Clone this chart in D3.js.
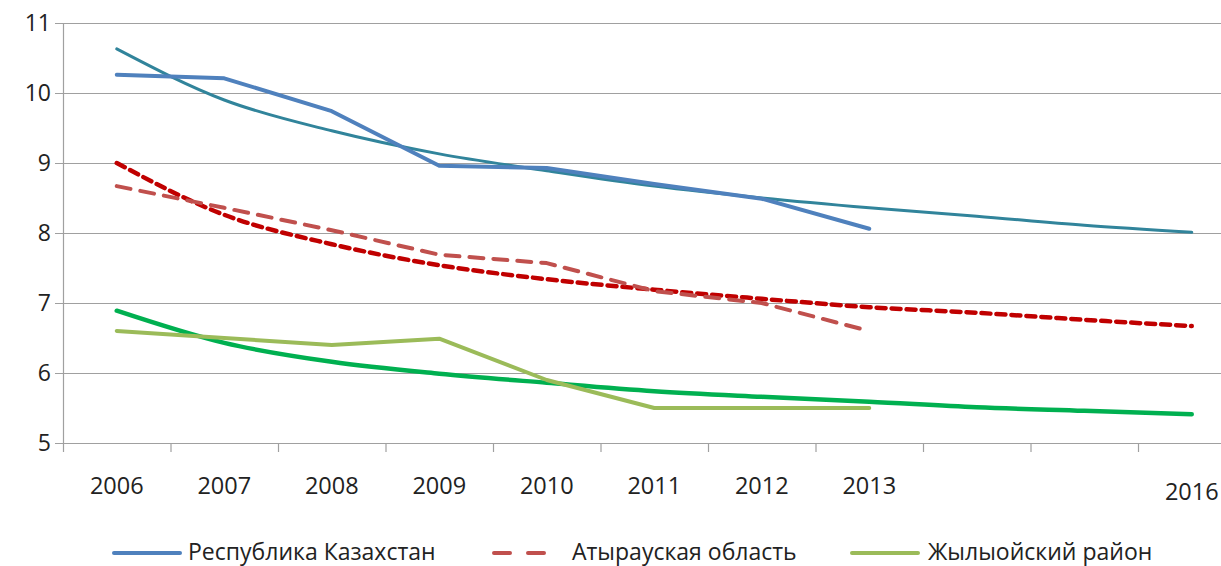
<!DOCTYPE html>
<html>
<head>
<meta charset="utf-8">
<script src="https://cdn.jsdelivr.net/npm/d3@7"></script>
<style>
  body { margin: 0; background: #fff; }
  svg { display: block; font-family: "Open Sans", "DejaVu Sans", sans-serif; }
</style>
</head>
<body>
<svg id="chart" width="1221" height="566"></svg>
<script>
// years on the axis, 2014 and 2015 have no label
var years = [2006, 2007, 2008, 2009, 2010, 2011, 2012, 2013, 2014, 2015, 2016];
var yearLabels = ['2006', '2007', '2008', '2009', '2010', '2011', '2012', '2013', '', '', '2016'];
var yTicks = [5, 6, 7, 8, 9, 10, 11];

// actual values (2006-2013)
var kazakhstan = [10.26, 10.21, 9.74, 8.96, 8.93, 8.70, 8.49, 8.06];
var atyrau     = [8.67, 8.36, 8.04, 7.69, 7.57, 7.17, 7.00, 6.60];
var zhylyoi    = [6.60, 6.50, 6.40, 6.49, 5.90, 5.50, 5.50, 5.50];

// trend lines (2006-2016)
var kazakhstanTrend = [10.63, 9.90, 9.46, 9.13, 8.89, 8.67, 8.50, 8.36, 8.24, 8.11, 8.01];
var atyrauTrend     = [9.00, 8.26, 7.84, 7.54, 7.34, 7.19, 7.06, 6.94, 6.86, 6.76, 6.67];
var zhylyoiTrend    = [6.89, 6.43, 6.16, 5.99, 5.86, 5.74, 5.66, 5.59, 5.51, 5.46, 5.41];

var legendNames = ['Республика Казахстан', 'Атырауская область', 'Жылыойский район'];

var svg = d3.select('#chart');
var plotLeft = 63, plotTop = 23, plotBottom = 443;

var x = d3.scaleBand()
  .domain(years)
  .range([plotLeft, plotLeft + 107.5 * years.length]);

var y = d3.scaleLinear()
  .domain([5, 11])
  .range([plotBottom, plotTop]);

var g = svg.append('g');

// grid
g.selectAll('line.grid')
  .data(yTicks)
  .enter()
  .append('line')
    .attr('x1', plotLeft - 8)
    .attr('x2', x.range()[1])
    .attr('y1', function(d) { return y(d) + 0.5; })
    .attr('y2', function(d) { return y(d) + 0.5; })
    .attr('stroke', '#a0a0a0')
    .attr('stroke-width', 1.2);

// y axis line
g.append('line')
  .attr('x1', plotLeft + 0.5).attr('x2', plotLeft + 0.5)
  .attr('y1', plotTop).attr('y2', plotBottom + 9)
  .attr('stroke', '#a0a0a0').attr('stroke-width', 1.2);

// x ticks at category boundaries
g.selectAll('line.xtick')
  .data(years)
  .enter()
  .append('line')
    .attr('x1', function(d) { return x(d) + x.bandwidth() + 0.5; })
    .attr('x2', function(d) { return x(d) + x.bandwidth() + 0.5; })
    .attr('y1', plotBottom)
    .attr('y2', plotBottom + 9)
    .attr('stroke', '#a0a0a0').attr('stroke-width', 1.2);

// y labels
g.selectAll('text.ylab')
  .data(yTicks)
  .enter()
  .append('text')
    .attr('x', 51)
    .attr('y', function(d) { return y(d); })
    .attr('dy', '0.36em')
    .attr('text-anchor', 'end')
    .attr('font-size', 23)
    .attr('fill', '#222')
    .text(function(d) { return d; });

// x labels, the last one sits a bit lower
g.selectAll('text.xlab')
  .data(years)
  .enter()
  .append('text')
    .attr('x', function(d) { return x(d) + x.bandwidth() / 2; })
    .attr('y', function(d, i) { return i == years.length - 1 ? 500 : 494; })
    .attr('text-anchor', 'middle')
    .attr('font-size', 23.5)
    .attr('fill', '#222')
    .text(function(d, i) { return yearLabels[i]; });

function cx(i) { return x(years[i]) + x.bandwidth() / 2; }

var straight = d3.line()
  .x(function(d, i) { return cx(i); })
  .y(function(d) { return y(d); });

var smooth = d3.line()
  .x(function(d, i) { return cx(i); })
  .y(function(d) { return y(d); })
  .curve(d3.curveMonotoneX);

var series = [
  { data: kazakhstanTrend, line: smooth, color: '#31849b', width: 3, dash: null },
  { data: atyrauTrend, line: smooth, color: '#c00000', width: 4.5, dash: '9,6' },
  { data: zhylyoiTrend, line: smooth, color: '#00b050', width: 4.5, dash: null },
  { data: kazakhstan, line: straight, color: '#4f81bd', width: 4, dash: null },
  { data: atyrau, line: straight, color: '#c0504d', width: 4, dash: '14,10' },
  { data: zhylyoi, line: straight, color: '#9bbb59', width: 4, dash: null }
];

// trend lines first, then actual series on top
for (var i = 0 ; i < series.length ; i++){
  var s = series[i];
  g.append('path')
    .datum(s.data)
    .attr('fill', 'none')
    .attr('stroke', s.color)
    .attr('stroke-width', s.width)
    .attr('stroke-linejoin', 'round')
    .attr('stroke-linecap', 'round')
    .attr('stroke-dasharray', s.dash)
    .attr('d', s.line);
}

// legend
var legendX = [112, 492, 850];
var legendColors = ['#4f81bd', '#c0504d', '#9bbb59'];
var legendDash = [null, '16,18', null];
var legendText = [188, 572, 928];
var ly = 553;

for (var j = 0 ; j < legendNames.length ; j++){
  svg.append('line')
    .attr('x1', legendX[j] + 2).attr('x2', legendX[j] + (j == 1 ? 54 : 68))
    .attr('y1', ly).attr('y2', ly)
    .attr('stroke', legendColors[j])
    .attr('stroke-width', 4)
    .attr('stroke-linecap', 'round')
    .attr('stroke-dasharray', legendDash[j]);
  svg.append('text')
    .attr('x', legendText[j])
    .attr('y', 560)
    .attr('font-size', 23)
    .attr('fill', '#222')
    .text(legendNames[j]);
}
</script>
</body>
</html>
